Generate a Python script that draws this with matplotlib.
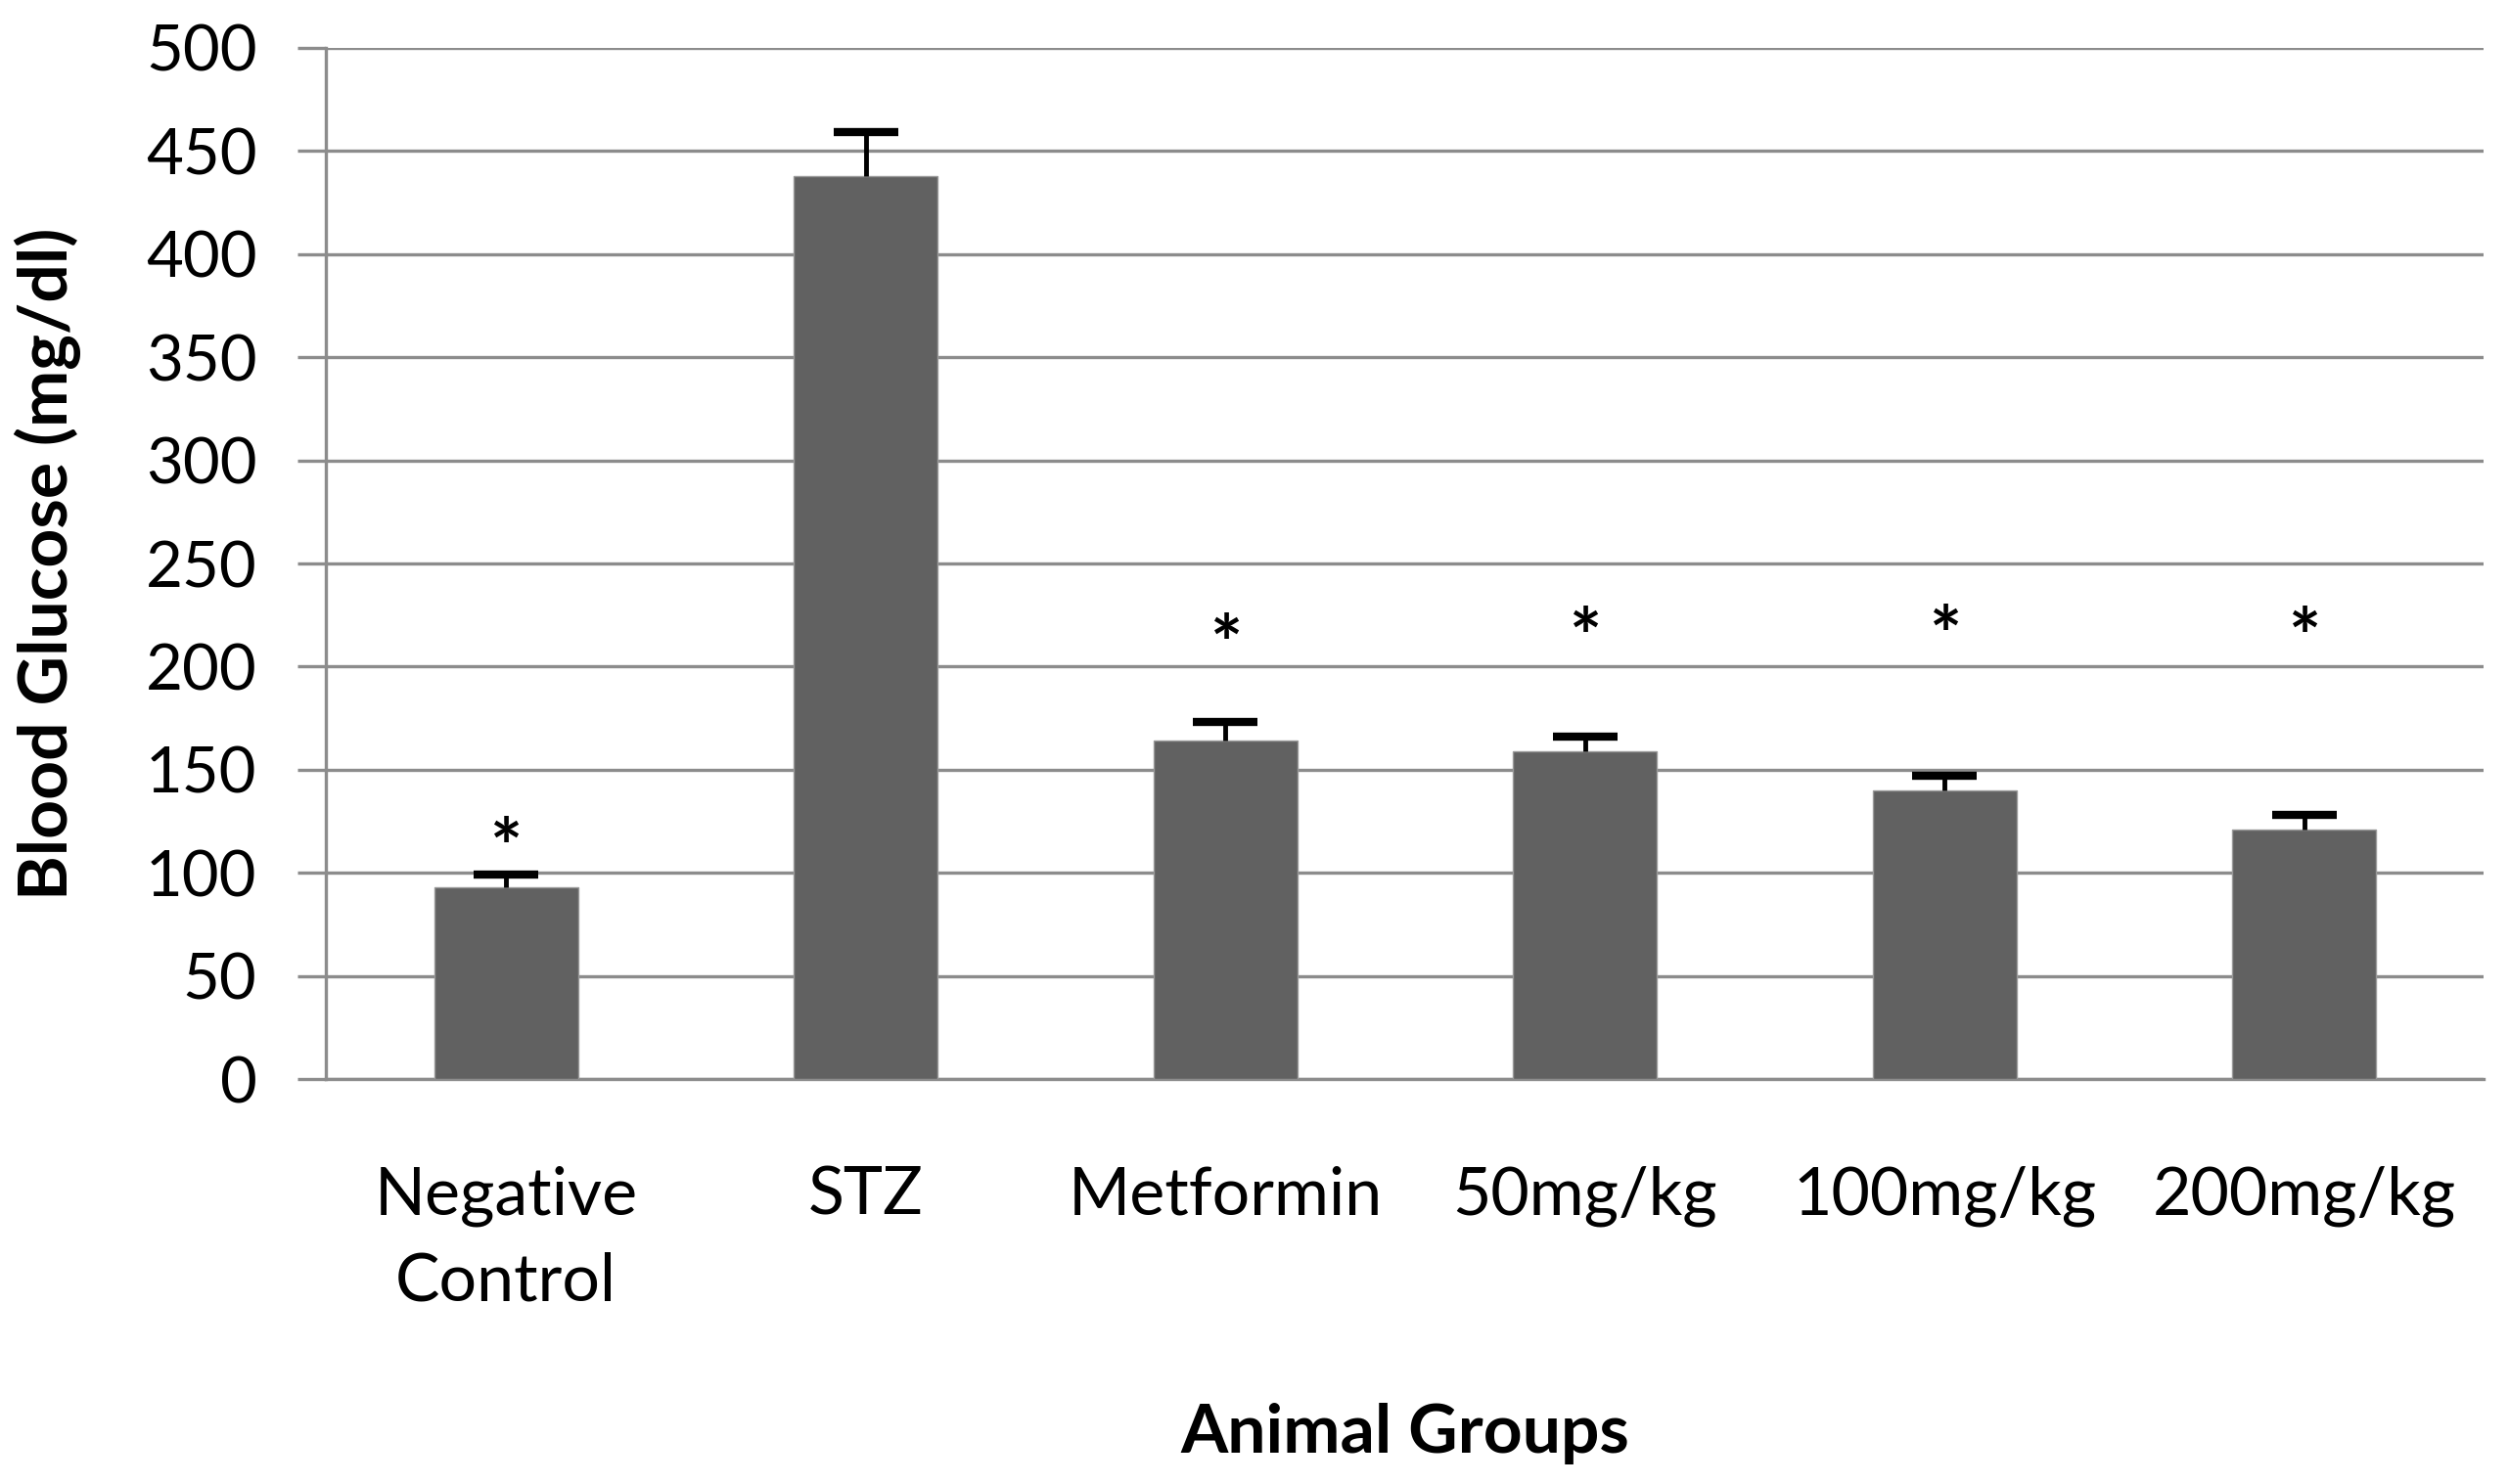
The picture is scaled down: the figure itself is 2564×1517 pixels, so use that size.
import numpy as np
import matplotlib
matplotlib.use("Agg")
import matplotlib.pyplot as plt

# dane
groups = ["Negative\nControl", "STZ", "Metformin", "50mg/kg", "100mg/kg", "200mg/kg"]
glucose = [93, 438, 164, 159, 140, 121]
sem = [6, 21, 9, 7, 7, 7]
star_y = [119, None, 218, 221, 222, 221]   # gwiazdki istotności

plt.rcParams['font.family'] = ['Lato', 'DejaVu Sans']

fig = plt.figure(figsize=(25.64, 15.17), dpi=100)
ax = fig.add_axes([0.130, 0.2729, 0.8600, 0.6948])

x = np.arange(len(groups))
ax.bar(x, glucose, width=0.4, color='#616161', edgecolor='#9a9a9a', linewidth=1, zorder=3)
eb = ax.errorbar(x, glucose, yerr=[np.zeros(len(sem)), sem], fmt='none', ecolor='black',
                 elinewidth=3.5, capsize=24, capthick=6, zorder=4)
# tylko górny "wąs"
eb[1][0].set_visible(False)

for xi, sy in zip(x, star_y):
    if sy is not None:
        ax.text(xi, sy - 20, '*', ha='center', va='baseline', fontsize=56,
                fontweight='bold', zorder=5)

ax.set_xlim(-0.5, len(groups) - 0.5)
ax.set_ylim(0, 500)
ax.set_yticks(np.arange(0, 501, 50))
ax.yaxis.grid(True, color='#8c8c8c', linewidth=2.4, zorder=0)
ax.set_axisbelow(True)

for s in ['top', 'right']:
    ax.spines[s].set_visible(False)
ax.spines['left'].set_color('#8c8c8c')
ax.spines['left'].set_linewidth(2.4)
ax.spines['bottom'].set_color('#8c8c8c')
ax.spines['bottom'].set_linewidth(2.4)

ax.tick_params(axis='y', length=21, width=2.4, color='#8c8c8c', pad=30, labelsize=47)
ax.tick_params(axis='x', length=0, pad=64, labelsize=49)
ax.set_xticks(x)
ax.set_xticklabels(groups, linespacing=1.5)

ax.set_xlabel("Animal Groups", fontsize=50, fontweight='bold', va='center')
ax.set_ylabel("Blood Glucose (mg/dl)", fontsize=50, fontweight='bold', va='center')
ax.xaxis.set_label_coords(0.5, -0.344)
ax.yaxis.set_label_coords(-0.129, 0.5)

fig.savefig("out.png", dpi=100)
